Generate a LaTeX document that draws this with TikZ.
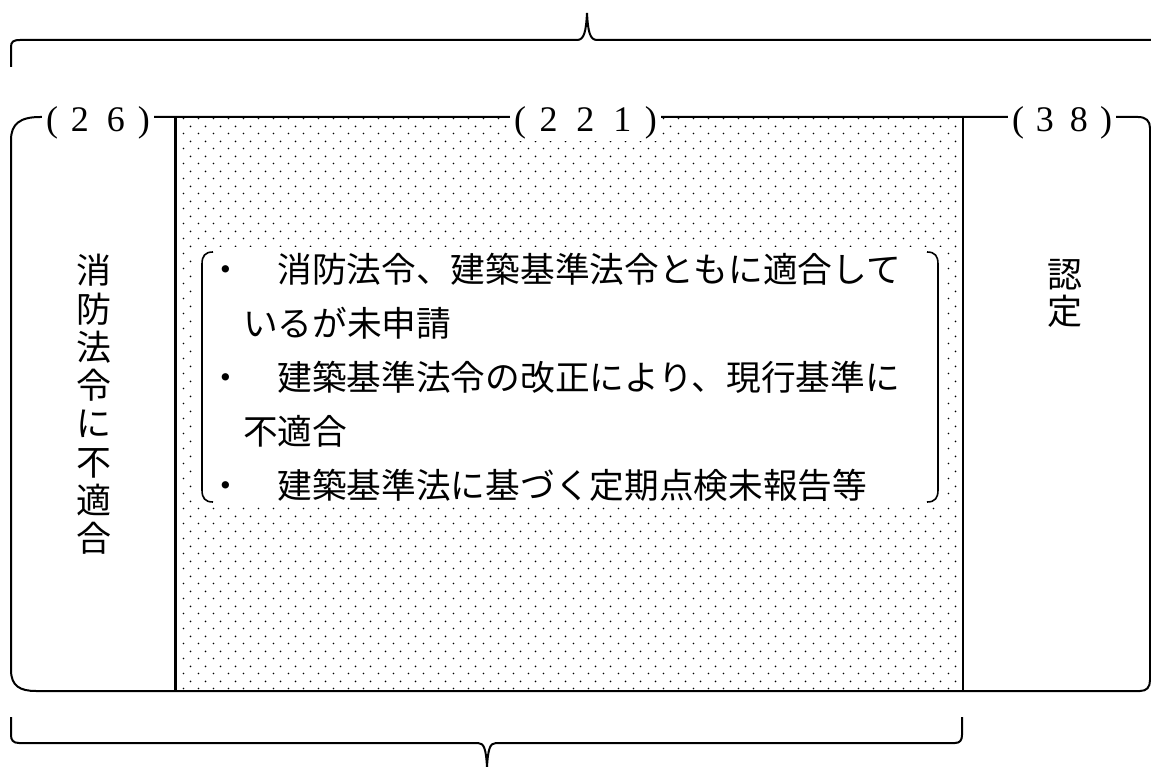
\documentclass[tikz,border=0pt]{standalone}
\usepackage{fontspec}
\newfontfamily\jp{Noto Sans CJK JP}
\newfontfamily\dgfont{Liberation Serif}
\usetikzlibrary{patterns.meta}
\tikzdeclarepattern{name=sdots,type=uncolored,bounding box={(0pt,0pt) and (15pt,15pt)},tile size={(15pt,15pt)},code={\pgfpathcircle{\pgfpoint{3.75pt}{3.75pt}}{1pt}\pgfpathcircle{\pgfpoint{11.25pt}{11.25pt}}{1pt}\pgfusepath{fill}}}
\newcommand\pa[1]{\makebox[20pt]{#1}}
\newcommand\dg[1]{\makebox[36pt]{#1}}
\begin{document}
\begin{tikzpicture}[x=1pt,y=-1pt,line width=2pt,
 lbl/.style={anchor=base,fill=white,inner xsep=0pt,inner ysep=1pt,font=\dgfont\fontsize{36}{36}\selectfont},
 vch/.style={anchor=base,inner sep=0pt,font=\jp\fontsize{35}{35}\selectfont},
 itxt/.style={anchor=base west,inner sep=0pt,font=\jp\fontsize{34.7}{34.7}\selectfont},
 brk/.style={line width=1.6pt}]
\useasboundingbox (0,0) rectangle (1151,767);
\fill[white] (0,0) rectangle (1151,767);
% dotted middle column
\fill[pattern=sdots] (175,117) rectangle (963,691);
\fill[white] (197,247) rectangle (944,506);
% main outline
\draw (11,140) .. controls (11,124) and (20,117) .. (40,117) -- (1138,117)
  .. controls (1146,117) and (1150,121) .. (1150,128) -- (1150,680)
  .. controls (1150,687) and (1147,691) .. (1140,691) -- (36,691)
  .. controls (20,691) and (11,686) .. (11,670) -- cycle;
\draw[line width=3pt] (175,117) -- (175,691);
\draw (963,117) -- (963,691);
% labels on top line
\node[lbl] (n26) at (98,132) {\pa{(}\dg{2}\dg{6}\pa{)}};
\node[lbl] (n221) at (585.5,132) {\pa{(}\makebox[37pt]{2}\makebox[37pt]{2}\makebox[37pt]{1}\pa{)}};
\node[lbl] (n38) at (1062,132) {\pa{(}\makebox[34pt]{3}\makebox[34pt]{8}\pa{)}};
% top brace
\draw (11,67) -- (11,47) .. controls (11,42) and (13,40) .. (20,40) -- (577,40)
  .. controls (584,40) and (586,32) .. (587,13)
  .. controls (588,32) and (590,40) .. (597,40) -- (1151,40);
% bottom brace
\draw (11,717) -- (11,735) .. controls (11,740) and (13,743) .. (19,743) -- (478,743)
  .. controls (484,743) and (486,749) .. (487,767)
  .. controls (488,749) and (490,743) .. (496,743) -- (955,743)
  .. controls (960,743) and (962,740) .. (962,735) -- (962,717);
% brackets
\draw[brk] (213,252) .. controls (205,252) and (202,256) .. (202,264) -- (202,490) .. controls (202,498) and (205,502) .. (213,502);
\draw[brk] (927,252) .. controls (935,252) and (938,256) .. (938,264) -- (938,490) .. controls (938,498) and (935,502) .. (927,502);
% inner text
\node[itxt] (t1) at (207,283) {・　消防法令、建築基準法令ともに適合して};
\node[itxt] (t2) at (242,337) {いるが未申請};
\node[itxt] (t3) at (207,390) {・　建築基準法令の改正により、現行基準に};
\node[itxt] (t4) at (242,444) {不適合};
\node[itxt] (t5) at (207,498) {・　建築基準法に基づく定期点検未報告等};
% vertical texts
\foreach \c [count=\i] in {消,防,法,令,に,不,適,合}
  \node[vch] (v\i) at (94,{284+38.2*(\i-1)}) {\c};
\node[vch] (r1) at (1065,288) {認};
\node[vch] (r2) at (1065,324) {定};
\end{tikzpicture}
\end{document}
